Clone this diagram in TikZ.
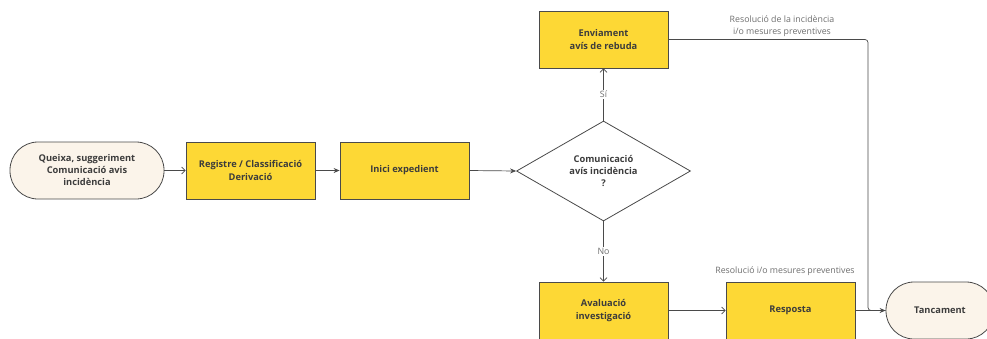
\documentclass[tikz,border=0pt]{standalone}
\usepackage{fontspec}
\setmainfont{Open Sans}
\usetikzlibrary{shapes.geometric,arrows.meta}
\definecolor{gold}{HTML}{FDD835}
\definecolor{cream}{HTML}{FBF4EA}
\definecolor{edge}{HTML}{4A4A4A}
\definecolor{txt}{HTML}{3C3C3C}
\definecolor{lbl}{HTML}{6E6E6E}
\tikzset{
  box/.style={draw=edge, line width=0.8pt, fill=gold, minimum width=129pt, minimum height=57pt, inner sep=2pt, align=center, text=txt, font=\fontsize{9.3}{13}\selectfont\bfseries},
  term/.style={draw=edge, line width=0.8pt, fill=cream, rounded corners=28pt, minimum height=57pt, inner sep=2pt, align=center, text=txt, font=\fontsize{9.3}{12}\selectfont\bfseries},
  decision/.style={draw=edge, line width=0.8pt, fill=white, shape=diamond, minimum width=174pt, minimum height=100pt, inner sep=0pt, align=center, text=txt, font=\fontsize{9.3}{12}\selectfont\bfseries},
  conn/.style={draw=edge, line width=0.7pt},
  openarr/.style={conn, -{Straight Barb[length=3.5pt,width=7pt]}},
  fillarr/.style={conn, -{Stealth[length=6pt,width=5pt]}},
  lab/.style={text=lbl, font=\fontsize{8.8}{12}\selectfont, align=center, inner sep=1pt},
}
\begin{document}
\begin{tikzpicture}[x=1pt,y=-1pt]
\useasboundingbox (0,0) rectangle (987,338);
\node[term, minimum width=154pt] (start) at (87,170.5) {Queixa, suggeriment\\Comunicació avis\\incidència};
\node[box] (reg) at (250.5,170.5) {Registre / Classificació\\Derivació};
\node[box] (ini) at (404.5,170.5) {Inici expedient};
\node[decision] (dec) at (603.5,171) {Comunicació\\avís incidència\\?};
\node[box] (env) at (603.5,39.5) {Enviament\\avís de rebuda};
\node[box] (ava) at (603.5,310.5) {Avaluació\\investigació};
\node[box] (res) at (790.5,310.5) {Resposta};
\node[term, minimum width=108pt] (tan) at (940,310.5) {Tancament};
\coordinate (c1) at (868,39.5);
\coordinate (c2) at (868,310.5);

\draw[openarr] (start.east) -- (reg.west);
\draw[fillarr] (reg.east) -- (ini.west);
\draw[fillarr] (ini.east) -- (dec.west);
\draw[openarr] (dec.north) -- node[lab, fill=white] (si) {Sí} (env.south);
\draw[openarr] (dec.south) -- node[lab, fill=white] (no) {No} (ava.north);
\draw[openarr] (ava.east) -- (res.west);
\draw[fillarr] (res.east) -- (tan.west);
\draw[conn, rounded corners=3pt] (env.east) -- (c1) -- (c2) -- (tan.west);

\node[lab] (l1) at (782,26) {Resolució de la incidència\\i/o mesures preventives};
\node[lab] (l2) at (785,271) {Resolució i/o mesures preventives};
\end{tikzpicture}
\end{document}
